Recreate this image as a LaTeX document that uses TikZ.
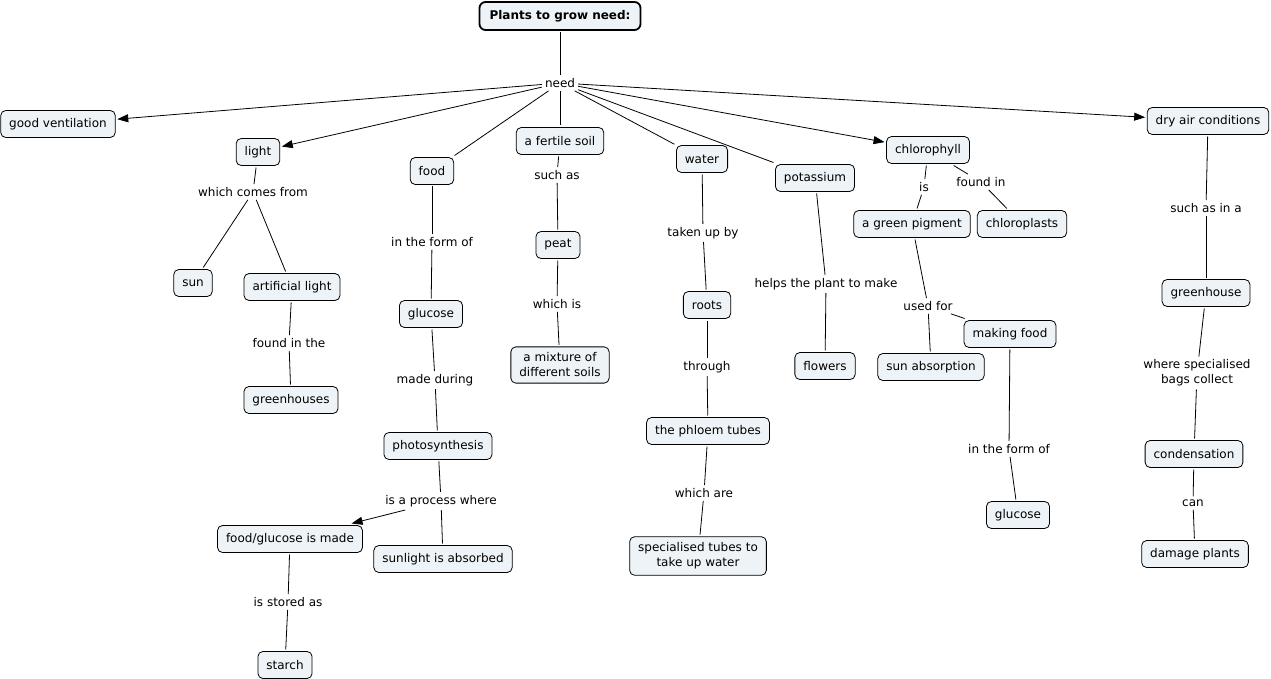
\documentclass[tikz,border=0pt]{standalone}
\usepackage{fontspec}
\setmainfont{DejaVu Sans}
\usetikzlibrary{arrows.meta}
\definecolor{boxfill}{RGB}{237,243,246}
\newcommand{\cmfont}{\fontsize{12}{15}\selectfont}
\tikzset{
  box/.style={draw, rounded corners=5pt, fill=boxfill, inner xsep=8.5pt, inner ysep=4pt,
    minimum height=27pt, font=\cmfont, align=center, line width=0.8pt, outer sep=2pt},
  twoline/.style={inner ysep=6pt},
  titlebox/.style={box, line width=1.8pt, rounded corners=6pt, inner xsep=10pt, font=\cmfont\bfseries, minimum height=28pt},
  lnk/.style={inner sep=3pt, font=\cmfont, align=center},
  conn/.style={line width=0.8pt},
  arr/.style={conn, -{Triangle[length=11pt,width=8pt]}}
}
\begin{document}
\begin{tikzpicture}[x=1pt,y=-1pt]
\useasboundingbox (0,0) rectangle (1271,679);
% main
\node[titlebox] (title) at (560,16) {Plants to grow need:};
\node[lnk] (need) at (560,83) {need};
\node[box] (vent) at (58,124) {good ventilation};
\node[box] (light) at (258,152) {light};
\node[box] (food) at (432,171) {food};
\node[box] (soil) at (560,141) {a fertile soil};
\node[box] (water) at (702,159) {water};
\node[box] (potassium) at (815,178) {potassium};
\node[box] (chloro) at (928,150) {chlorophyll};
\node[box] (dry) at (1208,121) {dry air conditions};
% light
\node[lnk] (lwcf) at (253,192) {which comes from};
\node[box] (sun) at (193,283) {sun};
\node[box] (art) at (292,287) {artificial light};
\node[lnk] (lfit) at (289,343) {found in the};
\node[box] (greenhouses) at (291,400) {greenhouses};
% food
\node[lnk] (lifoa) at (432,242) {in the form of};
\node[box] (gluca) at (431,314) {glucose};
\node[lnk] (lmd) at (435,380) {made during};
\node[box] (photo) at (438,446) {photosynthesis};
\node[lnk] (lipw) at (441,501) {is a process where};
\node[box] (fgm) at (290,539) {food/glucose is made};
\node[box] (sab) at (443,559) {sunlight is absorbed};
\node[lnk] (lisa) at (288,602) {is stored as};
\node[box] (starch) at (285,665) {starch};
% soil
\node[lnk] (lsa) at (557,175) {such as};
\node[box] (peat) at (558,245) {peat};
\node[lnk] (lwi) at (557,304) {which is};
\node[box, twoline] (mix) at (560,365) {a mixture of\\different soils};
% water
\node[lnk] (ltub) at (703,233) {taken up by};
\node[box] (roots) at (707,305) {roots};
\node[lnk] (lthr) at (707,367) {through};
\node[box] (phloem) at (708,431) {the phloem tubes};
\node[lnk] (lwa) at (704,493) {which are};
\node[box, twoline] (spec) at (698,556) {specialised tubes to\\take up water};
% potassium
\node[lnk] (lhpm) at (826,284) {helps the plant to make};
\node[box] (flowers) at (825,366) {flowers};
% chlorophyll
\node[lnk] (lis) at (924,187) {is};
\node[box] (pigment) at (912,224) {a green pigment};
\node[lnk] (lfi) at (981,182) {found in};
\node[box] (chloroplasts) at (1022,224) {chloroplasts};
\node[lnk] (luf) at (928,306) {used for};
\node[box] (sunabs) at (931,367) {sun absorption};
\node[box] (mkfood) at (1010,334) {making food};
\node[lnk] (lifob) at (1009,449) {in the form of};
\node[box] (glucb) at (1018,515) {glucose};
% dry
\node[lnk] (lsia) at (1206,208) {such as in a};
\node[box] (greenhouse) at (1206,293) {greenhouse};
\node[lnk] (lwsbc) at (1197,373) {where specialised\\bags collect};
\node[box] (cond) at (1194,454) {condensation};
\node[lnk] (lcan) at (1193,503) {can};
\node[box] (damage) at (1195,554) {damage plants};
% connectors
\draw[conn] (title) -- (need);
\draw[arr] (need) -- (vent);
\draw[arr] (need) -- (light);
\draw[conn] (need) -- (food);
\draw[conn] (need) -- (soil);
\draw[conn] (need) -- (water);
\draw[conn] (need) -- (potassium);
\draw[arr] (need) -- (chloro);
\draw[arr] (need) -- (dry);
\draw[conn] (light) -- (lwcf);
\draw[conn] (lwcf) -- (sun);
\draw[conn] (lwcf) -- (art);
\draw[conn] (art) -- (lfit);
\draw[conn] (lfit) -- (greenhouses);
\draw[conn] (food) -- (lifoa);
\draw[conn] (lifoa) -- (gluca);
\draw[conn] (gluca) -- (lmd);
\draw[conn] (lmd) -- (photo);
\draw[conn] (photo) -- (lipw);
\draw[arr] (lipw) -- (fgm);
\draw[conn] (lipw) -- (sab);
\draw[conn] (fgm) -- (lisa);
\draw[conn] (lisa) -- (starch);
\draw[conn] (soil) -- (lsa);
\draw[conn] (lsa) -- (peat);
\draw[conn] (peat) -- (lwi);
\draw[conn] (lwi) -- (mix);
\draw[conn] (water) -- (ltub);
\draw[conn] (ltub) -- (roots);
\draw[conn] (roots) -- (lthr);
\draw[conn] (lthr) -- (phloem);
\draw[conn] (phloem) -- (lwa);
\draw[conn] (lwa) -- (spec);
\draw[conn] (potassium) -- (lhpm);
\draw[conn] (lhpm) -- (flowers);
\draw[conn] (chloro) -- (lis);
\draw[conn] (lis) -- (pigment);
\draw[conn] (chloro) -- (lfi);
\draw[conn] (lfi) -- (chloroplasts);
\draw[conn] (pigment) -- (luf);
\draw[conn] (luf) -- (sunabs);
\draw[conn] (luf) -- (mkfood);
\draw[conn] (mkfood) -- (lifob);
\draw[conn] (lifob) -- (glucb);
\draw[conn] (dry) -- (lsia);
\draw[conn] (lsia) -- (greenhouse);
\draw[conn] (greenhouse) -- (lwsbc);
\draw[conn] (lwsbc) -- (cond);
\draw[conn] (cond) -- (lcan);
\draw[conn] (lcan) -- (damage);
\end{tikzpicture}
\end{document}
